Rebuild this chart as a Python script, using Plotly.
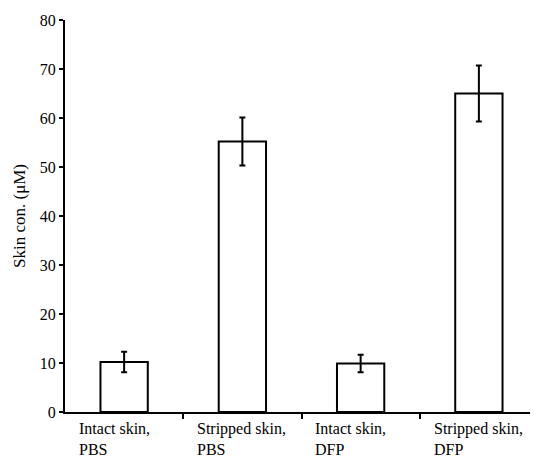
import plotly.graph_objects as go

categories = ["Intact skin,<br>PBS", "Stripped skin,<br>PBS", "Intact skin,<br>DFP", "Stripped skin,<br>DFP"]
values = [10.2, 55.2, 9.9, 65.0]
errors = [2.1, 4.9, 1.8, 5.7]
y_ticks = [0, 10, 20, 30, 40, 50, 60, 70, 80]

xpos = list(range(len(categories)))
font = "Liberation Serif"

fig = go.Figure()
fig.add_trace(go.Bar(
    x=xpos, y=values, width=0.4,
    marker=dict(color="white", line=dict(color="black", width=2)),
    error_y=dict(type="data", array=errors, visible=True, color="black", thickness=2, width=3),
))

for i, c in enumerate(categories):
    fig.add_annotation(x=i - 0.4, y=0, xref="x", yref="paper", text=c, showarrow=False,
                       xanchor="left", yanchor="top", align="left", yshift=-6,
                       font=dict(family=font, size=16, color="black"))

fig.update_layout(
    width=530, height=450,
    margin=dict(l=57, r=0, t=12, b=46),
    paper_bgcolor="white", plot_bgcolor="white",
    showlegend=False,
    font=dict(family=font, size=16, color="black"),
    xaxis=dict(range=[-0.5, 3.5], tickvals=[0.5, 1.5, 2.5], ticktext=["", "", ""],
               ticks="outside", ticklen=5, tickwidth=2, tickcolor="black",
               showline=True, linecolor="black", linewidth=2, showgrid=False, zeroline=False),
    yaxis=dict(range=[0, 80], tickvals=y_ticks, ticks="outside", ticklen=4, tickwidth=2,
               tickcolor="black", showline=True, linecolor="black", linewidth=2,
               showgrid=False, zeroline=False,
               title=dict(text="Skin con. (μM)", font=dict(family=font, size=17), standoff=10),
               tickfont=dict(family=font, size=16)),
)

fig.write_html("out.html")
